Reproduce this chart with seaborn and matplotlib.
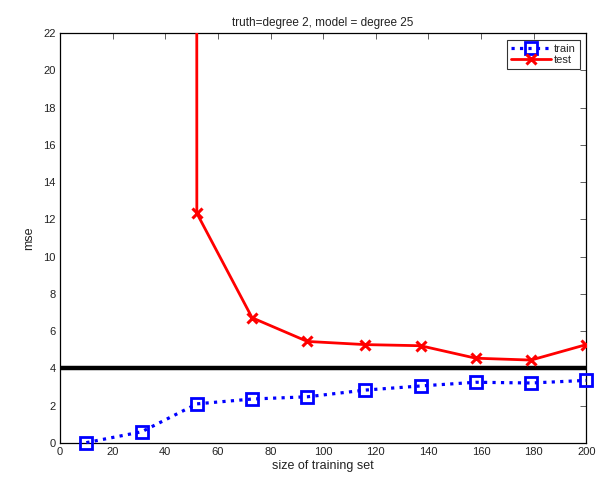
import numpy as np
import pandas as pd
import matplotlib
matplotlib.use("Agg")
import matplotlib.pyplot as plt
import seaborn as sns

# training-set sizes and mean squared errors
train_sizes = [10, 31, 52, 73, 94, 116, 137, 158, 179, 200]
train_mse = [0.02, 0.60, 2.10, 2.36, 2.48, 2.84, 3.06, 3.26, 3.22, 3.36]
test_mse = [1.0e6, 1.0e4, 12.33, 6.72, 5.45, 5.28, 5.22, 4.55, 4.45, 5.28]
noise_level = 4.0

title = "truth=degree 2, model = degree 25"
x_label = "size of training set"
y_label = "mse"
x_ticks = list(range(0, 201, 20))
y_ticks = list(range(0, 23, 2))

sns.set_style("white")
plt.rcParams["font.family"] = ["Liberation Sans", "DejaVu Sans"]

df = pd.DataFrame({"n": train_sizes, "train": train_mse, "test": test_mse})

fig = plt.figure(figsize=(6.03, 4.84), dpi=100)
ax = fig.add_axes([0.0995, 0.0847, 0.8728, 0.8471])

sns.lineplot(data=df, x="n", y="train", ax=ax, color="#0000ff",
             linestyle=":", linewidth=2.3, marker="s", markersize=8.5,
             markerfacecolor="none", markeredgecolor="#0000ff",
             markeredgewidth=2.0, sort=False, clip_on=False, zorder=4)
sns.lineplot(data=df, x="n", y="test", ax=ax, color="#ff0000",
             linestyle="-", linewidth=2.0, marker="x", markersize=7.5,
             markeredgecolor="#ff0000", markerfacecolor="#ff0000",
             markeredgewidth=2.2, sort=False, zorder=3)
ax.axhline(noise_level, color="black", linewidth=3.2, zorder=2)

ax.set_xlim(0, 200)
ax.set_ylim(0, 22)
ax.set_xticks(x_ticks)
ax.set_yticks(y_ticks)
ax.set_xticklabels([str(t) for t in x_ticks])
ax.set_yticklabels([str(t) for t in y_ticks])
ax.tick_params(direction="in", length=4, width=0.6, labelsize=8,
               top=True, right=True, colors="#444444", labelcolor="#222222",
               pad=3)
for s in ax.spines.values():
    s.set_color("black")
    s.set_linewidth(0.9)

ax.set_title(title, fontsize=8.5, pad=5, color="#222222")
ax.set_xlabel(x_label, fontsize=9, labelpad=2, color="#222222")
ax.set_ylabel(y_label, fontsize=9, labelpad=6, color="#222222")

lines = ax.get_lines()
leg = ax.legend([lines[0], lines[1]], ["train", "test"], loc="upper right",
                fontsize=8, frameon=True, fancybox=False, borderpad=0.35,
                handlelength=3.6, handletextpad=0.3, labelspacing=0.1,
                borderaxespad=0.6)
leg.get_frame().set_edgecolor("black")
leg.get_frame().set_linewidth(0.8)
leg.set_zorder(10)

fig.savefig("out.png", dpi=100)
